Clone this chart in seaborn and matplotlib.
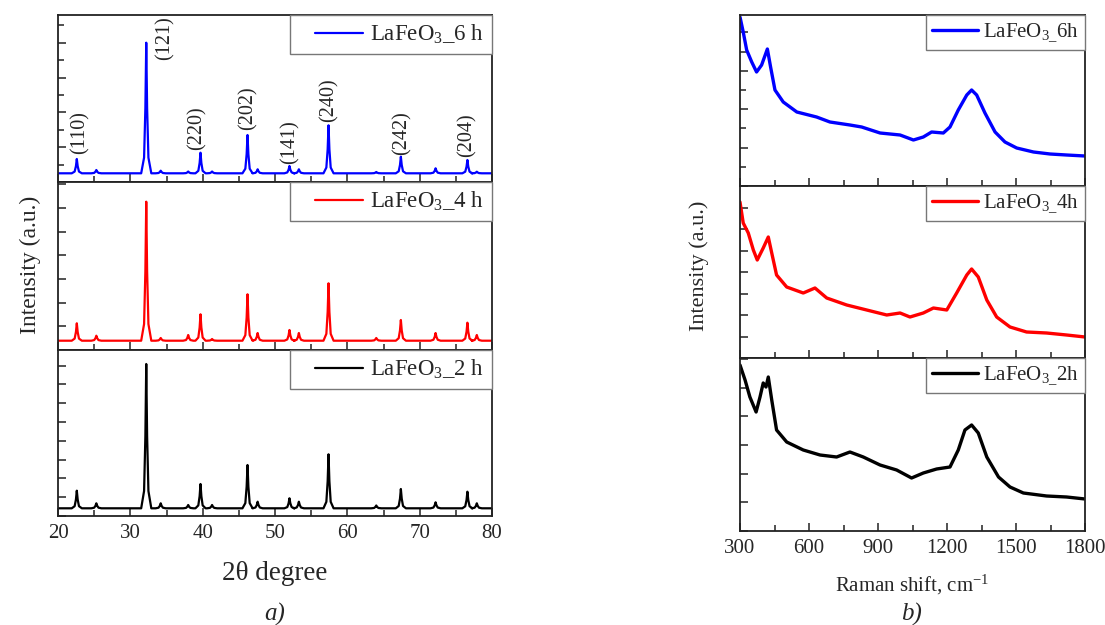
import numpy as np
import pandas as pd
import matplotlib
matplotlib.use("Agg")
import matplotlib.pyplot as plt
from matplotlib.ticker import MultipleLocator, AutoMinorLocator
from matplotlib.legend_handler import HandlerLine2D
from matplotlib.lines import Line2D
import seaborn as sns

sns.set_style("ticks")
plt.rcParams['font.family'] = ['Liberation Serif', 'DejaVu Serif']
plt.rcParams['mathtext.fontset'] = 'custom'
plt.rcParams['mathtext.rm'] = 'Liberation Serif'
plt.rcParams['mathtext.it'] = 'Liberation Serif:italic'
plt.rcParams['mathtext.bf'] = 'Liberation Serif:bold'

# ---------------- XRD data (a) ----------------
xrd_peaks = [22.6, 25.3, 32.2, 34.2, 38.0, 39.7, 41.3, 46.2, 47.6, 52.0, 53.3,
             57.4, 64.0, 67.4, 72.2, 76.6, 77.9]
xrd_6h = [23, 12, 139.3, 11.3, 10.5, 29.3, 10.5, 47, 12.7, 16, 12.7,
          56.7, 10, 25.3, 13.7, 22, 10.3]
xrd_4h = [26.7, 14.3, 148.3, 12, 15, 35.7, 11, 55.7, 17, 20, 17,
          66.7, 12, 30, 17, 27.3, 15]
xrd_2h = [25.3, 12.7, 152, 12.7, 11, 32, 11, 51, 14.3, 17.7, 14.3,
          61.7, 10.5, 27, 13.7, 24.3, 12.7]
xrd_base = {"6h": 8.7, "4h": 9.3, "2h": 7.7}

hkl_labels = ["(110)", "(121)", "(220)", "(202)", "(141)", "(240)", "(242)", "(204)"]
hkl_x = [23.0, 34.8, 39.2, 46.2, 52.1, 57.4, 67.5, 76.5]
hkl_y = [49, 144, 54, 74, 40, 82, 49, 47]

# ---------------- Raman data (b) ----------------
raman_6h_x = [300, 314, 329, 351, 372, 394, 419, 433, 452, 488, 547, 633, 691, 778, 829,
              909, 996, 1054, 1097, 1133, 1184, 1213, 1249, 1286, 1307, 1329, 1365,
              1409, 1452, 1503, 1576, 1648, 1720, 1800]
raman_6h_y = [169, 154, 136, 124, 114, 121, 137, 119, 96, 84, 74, 69, 64, 61, 59,
              53, 51, 46, 49, 54, 53, 59, 76, 91, 96, 91, 73,
              54, 44, 38, 34, 32, 31, 30]
raman_4h_x = [300, 314, 336, 358, 375, 401, 423, 438, 459, 503, 575, 626, 677, 764, 851,
              938, 996, 1039, 1097, 1141, 1199, 1242, 1286, 1307, 1336, 1373, 1416,
              1474, 1546, 1633, 1720, 1800]
raman_4h_y = [156, 135, 125, 108, 98, 110, 121, 105, 83, 71, 65, 70, 60, 53, 48,
              43, 45, 41, 45, 50, 48, 65, 83, 89, 81, 58, 41,
              31, 26, 25, 23, 21]
raman_2h_x = [300, 322, 343, 370, 387, 401, 413, 423, 438, 459, 503, 575, 648, 720, 778,
              836, 909, 981, 1046, 1097, 1155, 1213, 1249, 1278, 1307, 1336, 1373,
              1424, 1474, 1532, 1633, 1720, 1800]
raman_2h_y = [166, 151, 134, 119, 134, 148, 144, 154, 131, 101, 89, 81, 76, 74, 79,
              74, 66, 61, 53, 58, 62, 64, 81, 101, 106, 98, 74,
              54, 44, 38, 35, 34, 32]

# peak profile shape (relative offsets / fractions)
prof_dx = [-0.7, -0.3, -0.12, 0.0, 0.12, 0.3, 0.7]
prof_fr = [0.0, 0.12, 0.5, 1.0, 0.5, 0.12, 0.0]


def xrd_frame(heights, base):
    xs, ys = [20.0], [base]
    for p, h in zip(xrd_peaks, heights):
        for dx, fr in zip(prof_dx, prof_fr):
            xs.append(p + dx)
            ys.append(base + fr * (h - base))
    xs.append(80.0)
    ys.append(base)
    return pd.DataFrame({"x": xs, "y": ys})


W, H = 1105, 625
fig = plt.figure(figsize=(W / 100, H / 100), dpi=100)


def box(x0, y0, x1, y1):
    return [x0 / W, 1 - y1 / H, (x1 - x0) / W, (y1 - y0) / H]


def style_ax(ax):
    for s in ax.spines.values():
        s.set_linewidth(1.3)
        s.set_color("#222222")
    ax.tick_params(axis="both", which="both", direction="in", top=False, right=False,
                   labelleft=False, width=1.1, color="#222222")
    ax.tick_params(axis="both", which="major", length=6)
    ax.tick_params(axis="both", which="minor", length=4)
    ax.set_xlabel("")
    ax.set_ylabel("")


leg_left = dict(loc="upper right", fontsize=16.5, frameon=True, fancybox=False,
                edgecolor="#777777", framealpha=1, borderaxespad=0.0,
                handlelength=2.85, handletextpad=0.3, borderpad=0.35,
                handler_map={Line2D: HandlerLine2D(xpad=0.75)})
leg_right = dict(loc="upper right", fontsize=15, frameon=True, fancybox=False,
                 edgecolor="#777777", framealpha=1, borderaxespad=0.0,
                 handlelength=2.2, handletextpad=0.25, borderpad=0.3)

# ---- left panel ----
left_specs = [
    ("6h", xrd_6h, "#0000ff", r"LaFeO$_3$_6 h", (15, 182), 34.8, True),
    ("4h", xrd_4h, "#ff0000", r"LaFeO$_3$_4 h", (182, 350), 23.7, False),
    ("2h", xrd_2h, "#000000", r"LaFeO$_3$_2 h", (350, 516), 18.8, False),
]
for i, (key, hts, col, lab, (t, b), step, minor) in enumerate(left_specs):
    ax = fig.add_axes(box(58, t, 492, b))
    df = xrd_frame(hts, xrd_base[key])
    sns.lineplot(data=df, x="x", y="y", ax=ax, color=col, lw=1.6, sort=False,
                 estimator=None, label=lab)
    ax.set_xlim(20, 80)
    ax.set_ylim(0, b - t)
    ax.xaxis.set_major_locator(MultipleLocator(10))
    ax.xaxis.set_minor_locator(MultipleLocator(5))
    ax.yaxis.set_major_locator(MultipleLocator(step))
    if minor:
        ax.yaxis.set_minor_locator(AutoMinorLocator(2))
    style_ax(ax)
    ax.tick_params(axis="x", labelsize=15, pad=6)
    if i < 2:
        ax.tick_params(axis="x", labelbottom=False)
    ax.legend(**leg_left)
    if key == "6h":
        for s, xx, yy in zip(hkl_labels, hkl_x, hkl_y):
            ax.text(xx, yy, s, rotation=90, ha="center", va="center", fontsize=14.5)

# ---- right panel ----
right_specs = [
    (raman_6h_x, raman_6h_y, "#0000ff", r"LaFeO$_{3\_}$6h", (15, 186), 38.4, True),
    (raman_4h_x, raman_4h_y, "#ff0000", r"LaFeO$_{3\_}$4h", (186, 358), 21.5, False),
    (raman_2h_x, raman_2h_y, "#000000", r"LaFeO$_{3\_}$2h", (358, 531), 28.7, False),
]
for i, (xs, ys, col, lab, (t, b), step, minor) in enumerate(right_specs):
    ax = fig.add_axes(box(740, t, 1085, b))
    df = pd.DataFrame({"x": xs, "y": ys})
    sns.lineplot(data=df, x="x", y="y", ax=ax, color=col, lw=2.4, sort=False,
                 estimator=None, label=lab)
    ax.set_xlim(300, 1800)
    ax.set_ylim(0, b - t)
    ax.xaxis.set_major_locator(MultipleLocator(300))
    ax.xaxis.set_minor_locator(MultipleLocator(150))
    ax.yaxis.set_major_locator(MultipleLocator(step))
    if minor:
        ax.yaxis.set_minor_locator(AutoMinorLocator(2))
    style_ax(ax)
    ax.tick_params(axis="x", labelsize=15, pad=6)
    if i < 2:
        ax.tick_params(axis="x", labelbottom=False)
    ax.legend(**leg_right)

# ---- labels ----
fig.text(275 / W, 1 - 573 / H, "2θ degree", ha="center", va="center", fontsize=19.5)
fig.text(275 / W, 1 - 614 / H, "a)", ha="center", va="center", fontsize=18, style="italic")
fig.text(30 / W, 1 - 265 / H, "Intensity (a.u.)", ha="center", va="center",
         fontsize=17, rotation=90)
fig.text(912 / W, 1 - 585 / H, r"Raman shift, cm$^{\mathregular{-1}}$", ha="center",
         va="center", fontsize=15)
fig.text(912 / W, 1 - 614 / H, "b)", ha="center", va="center", fontsize=18, style="italic")
fig.text(699 / W, 1 - 266 / H, "Intensity (a.u.)", ha="center", va="center",
         fontsize=16, rotation=90)

fig.savefig("out.png", dpi=100)
